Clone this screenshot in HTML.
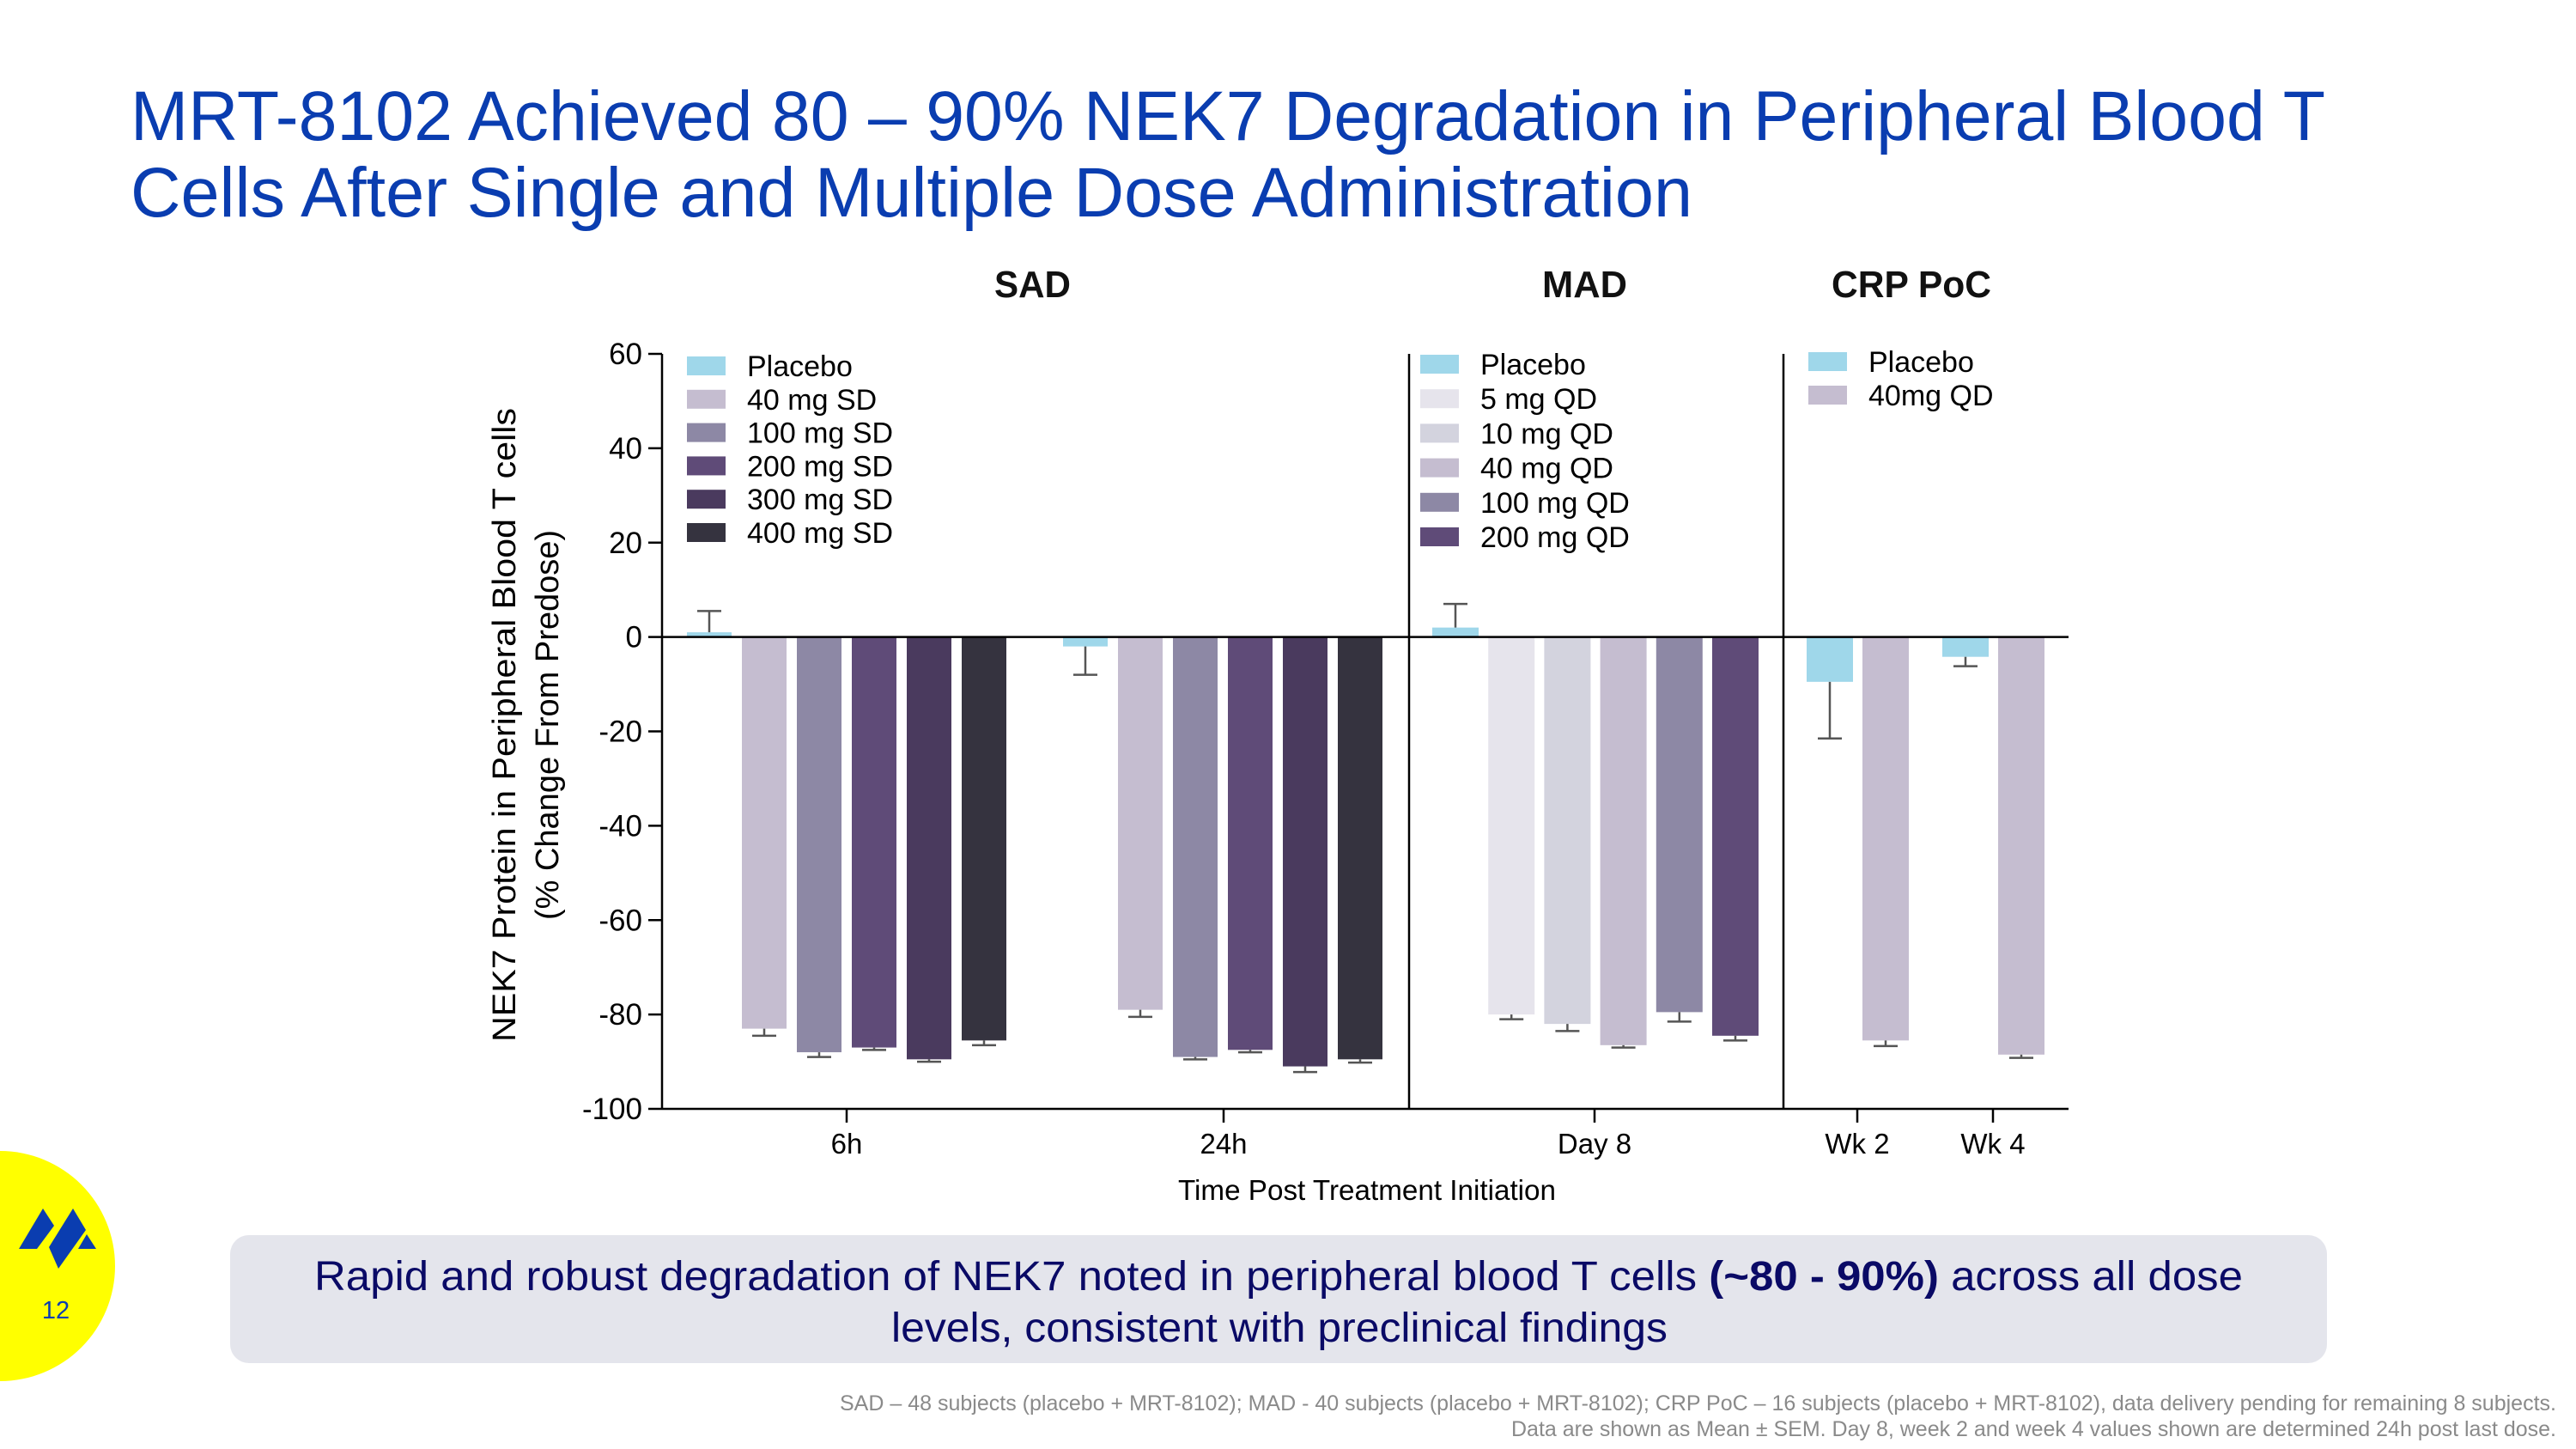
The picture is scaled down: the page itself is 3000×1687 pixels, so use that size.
<!DOCTYPE html>
<html><head><meta charset="utf-8"><style>
html,body{margin:0;padding:0;background:#fff;}
svg{display:block;font-family:"Liberation Sans",Arial,sans-serif;}
</style></head><body>
<svg id="page" width="3000" height="1687" viewBox="0 0 3000 1687" xmlns="http://www.w3.org/2000/svg">
<g fill="#0a3db0" font-size="82">
<text x="152" y="163" textLength="2556" lengthAdjust="spacingAndGlyphs">MRT-8102 Achieved 80 – 90% NEK7 Degradation in Peripheral Blood T</text>
<text x="152" y="252" textLength="1819" lengthAdjust="spacingAndGlyphs">Cells After Single and Multiple Dose Administration</text>
</g>
<g font-weight="bold" font-size="44" fill="#111">
<text x="1158" y="346" textLength="89" lengthAdjust="spacingAndGlyphs">SAD</text>
<text x="1796" y="346" textLength="99" lengthAdjust="spacingAndGlyphs">MAD</text>
<text x="2133" y="346" textLength="186" lengthAdjust="spacingAndGlyphs">CRP PoC</text>
</g>
<g id="chart"></g>
<g font-size="38" fill="#000" text-anchor="middle">
<text transform="translate(600,844) rotate(-90)" textLength="738" lengthAdjust="spacingAndGlyphs">NEK7 Protein in Peripheral Blood T cells</text>
<text transform="translate(650,844) rotate(-90)">(% Change From Predose)</text>
</g>
<text x="1592" y="1397" font-size="33" text-anchor="middle" fill="#000" textLength="440" lengthAdjust="spacingAndGlyphs">Time Post Treatment Initiation</text>
<g>
<rect x="268" y="1438" width="2442" height="149" rx="22" fill="#e4e5ec"/>
<text x="366" y="1502" font-size="48" fill="#0a0a66" textLength="2246" lengthAdjust="spacingAndGlyphs">Rapid and robust degradation of NEK7 noted in peripheral blood T cells <tspan font-weight="bold">(~80 - 90%)</tspan> across all dose</text>
<text x="1038" y="1562" font-size="48" fill="#0a0a66" textLength="904" lengthAdjust="spacingAndGlyphs">levels, consistent with preclinical findings</text>
</g>
<g font-size="25" fill="#8a8a8a">
<text x="978" y="1642" textLength="1999" lengthAdjust="spacingAndGlyphs">SAD – 48 subjects (placebo + MRT-8102); MAD - 40 subjects (placebo + MRT-8102); CRP PoC – 16 subjects (placebo + MRT-8102), data delivery pending for remaining 8 subjects.</text>
<text x="1760" y="1672" textLength="1217" lengthAdjust="spacingAndGlyphs">Data are shown as Mean ± SEM. Day 8, week 2 and week 4 values shown are determined 24h post last dose.</text>
</g>
<g>
<circle cx="0" cy="1474" r="134" fill="#ffff00"/>
<g fill="#0a3db0">
<polygon points="22,1454 50,1407 63,1427 43,1454"/>
<polygon points="57,1452 85,1407 100,1432 68,1477"/>
<polygon points="91,1454 101,1437 112,1454"/>
</g>
<text x="65" y="1535" font-size="29" fill="#0a3db0" text-anchor="middle">12</text>
</g>
</svg>
<script>
// ---- data ----
const yTicks = [60, 40, 20, 0, -20, -40, -60, -80, -100];
const sadSeries = ["Placebo", "40 mg SD", "100 mg SD", "200 mg SD", "300 mg SD", "400 mg SD"];
const madSeries = ["Placebo", "5 mg QD", "10 mg QD", "40 mg QD", "100 mg QD", "200 mg QD"];
const crpSeries = ["Placebo", "40mg QD"];
const categories = ["6h", "24h", "Day 8", "Wk 2", "Wk 4"];
const sad6hValues = [1, -83, -88, -87, -89.5, -85.5];
const sad6hErr = [4.5, 1.5, 1, 0.5, 0.5, 1];
const sad24hValues = [-2, -79, -89, -87.5, -91, -89.5];
const sad24hErr = [6, 1.5, 0.5, 0.5, 1.2, 0.7];
const madDay8Values = [2, -80, -82, -86.5, -79.5, -84.5];
const madDay8Err = [5, 1, 1.5, 0.5, 2, 1];
const crpWk2Values = [-9.5, -85.5];
const crpWk2Err = [12, 1.2];
const crpWk4Values = [-4.2, -88.5];
const crpWk4Err = [2, 0.7];

const sadColors = ["#9fd7ea", "#c5bdd0", "#8d88a5", "#5f4b78", "#4a3a5e", "#35333f"];
const madColors = ["#9fd7ea", "#e6e4ec", "#d3d3de", "#c5bdd0", "#8d88a5", "#5f4b78"];
const crpColors = ["#9fd7ea", "#c5bdd0"];

// ---- layout ----
const NS = "http://www.w3.org/2000/svg";
const chart = document.getElementById("chart");
const X0 = 771, X1 = 2409, Y_TOP = 412, Y_BOT = 1291;
const yMin = -100, yMax = 60;
function y(v) { return Y_BOT - (v - yMin) / (yMax - yMin) * (Y_BOT - Y_TOP); }
function mk(tag, attrs, parent) {
  const e = document.createElementNS(NS, tag);
  for (const k in attrs) e.setAttribute(k, attrs[k]);
  (parent || chart).appendChild(e);
  return e;
}

const groups = [
  { cat: 0, vals: sad6hValues, err: sad6hErr, colors: sadColors, names: sadSeries, x: 800, step: 64, w: 52, tick: 986 },
  { cat: 1, vals: sad24hValues, err: sad24hErr, colors: sadColors, names: sadSeries, x: 1238, step: 64, w: 52, tick: 1425 },
  { cat: 2, vals: madDay8Values, err: madDay8Err, colors: madColors, names: madSeries, x: 1668, step: 65.2, w: 54, tick: 1857 },
  { cat: 3, vals: crpWk2Values, err: crpWk2Err, colors: crpColors, names: crpSeries, x: 2104, step: 65, w: 54, tick: 2163 },
  { cat: 4, vals: crpWk4Values, err: crpWk4Err, colors: crpColors, names: crpSeries, x: 2262, step: 65, w: 54, tick: 2321 }
];

groups.forEach(g => {
  g.vals.forEach((v, i) => {
    const bx = g.x + i * g.step;
    const y0 = y(0), yv = y(v);
    const r = mk("rect", { x: bx, y: Math.min(y0, yv), width: g.w, height: Math.abs(yv - y0), fill: g.colors[i] });
    
    
    const ev = v >= 0 ? v + g.err[i] : v - g.err[i];
    const cx = bx + g.w / 2;
    const eg = mk("g", { stroke: "#555", "stroke-width": 2.5 });
    
    
    mk("line", { x1: cx, x2: cx, y1: yv, y2: y(ev) }, eg);
    mk("line", { x1: cx - 14, x2: cx + 14, y1: y(ev), y2: y(ev) }, eg);
  });
  const tk = mk("line", { x1: g.tick, x2: g.tick, y1: Y_BOT, y2: Y_BOT + 16, stroke: "#000", "stroke-width": 2.5 });
  
  
  const tl = mk("text", { x: g.tick, y: 1343, "font-size": 33, "text-anchor": "middle", fill: "#000" });
  
  
  tl.textContent = categories[g.cat];
});

const ax = mk("g", { stroke: "#000", "stroke-width": 2.5 });


mk("line", { x1: X0, x2: X0, y1: Y_TOP, y2: Y_BOT }, ax);
mk("line", { x1: X0, x2: X1, y1: Y_BOT, y2: Y_BOT }, ax);
mk("line", { x1: X0, x2: X1, y1: y(0), y2: y(0) }, ax);
mk("line", { x1: 1641, x2: 1641, y1: Y_TOP, y2: Y_BOT }, ax);
mk("line", { x1: 2077, x2: 2077, y1: Y_TOP, y2: Y_BOT }, ax);
yTicks.forEach(t => {
  const l = mk("line", { x1: X0 - 16, x2: X0, y1: y(t), y2: y(t) }, ax);
  
  
  const tx = mk("text", { x: 748, y: y(t) + 12, "font-size": 35, "text-anchor": "end", fill: "#000", stroke: "none" });
  
  
  tx.textContent = t;
});

function legend(names, colors, sx, tx, y0, dy, key) {
  const lg = mk("g", {});
  
  
  names.forEach((n, i) => {
    const cy = y0 + i * dy;
    const e = mk("g", {}, lg);
    
    
    mk("rect", { x: sx, y: cy - 11, width: 45, height: 22, fill: colors[i] }, e);
    const t = mk("text", { x: tx, y: cy + 12, "font-size": 34, fill: "#000" }, e);
    t.textContent = n;
  });
}
legend(sadSeries, sadColors, 800, 870, 426, 38.8, 'sad-legend');
legend(madSeries, madColors, 1654, 1724, 424, 40.2, 'mad-legend');
legend(crpSeries, crpColors, 2106, 2176, 421, 39, 'crp-legend');
</script>
</body></html>
